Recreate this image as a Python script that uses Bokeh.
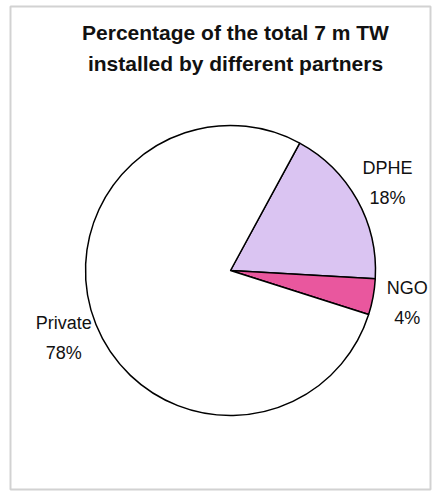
import numpy as np
from bokeh.plotting import figure
from bokeh.models import Range1d, ColumnDataSource, Label
from bokeh.core.properties import value
from bokeh.embed import file_html
from bokeh.resources import INLINE

# ---- data ----
categories = ["DPHE", "NGO", "Private"]
percentages = [18, 4, 78]
colors = ["#DAC4F2", "#E9579E", "#FFFFFF"]
title_lines = ["Percentage of the total 7 m TW", "installed by different partners"]

# ---- layout ----
W, H = 434, 492
cx, cy, r = 230, 222, 145
start_deg = 61.5
label_r = 1.24 * r
FONT = "Liberation Sans"

vals = np.array(percentages, dtype=float)
fr = vals / vals.sum()
cum = np.concatenate([[0], np.cumsum(fr)])
starts = np.radians(start_deg) - cum[:-1] * 2 * np.pi
ends = np.radians(start_deg) - cum[1:] * 2 * np.pi
mids = (starts + ends) / 2

src = ColumnDataSource(dict(
    cat=categories,
    pct=[f"{v}%" for v in percentages],
    start=starts, end=ends, color=colors,
    lx=cx + label_r * np.cos(mids),
    ly=cy + label_r * np.sin(mids),
))

p = figure(width=W, height=H, output_backend="svg", toolbar_location=None,
           x_range=Range1d(0, W), y_range=Range1d(0, H),
           x_axis_location=None, y_axis_location=None, min_border=0,
           background_fill_color="white", border_fill_color="white")
p.grid.visible = False
p.outline_line_color = None

# light frame around the chart
p.quad(left=[10], right=[430], bottom=[3], top=[486], fill_color=None,
       line_color="#d2d2d2", line_width=2)

p.wedge(x=cx, y=cy, radius=r, start_angle="start", end_angle="end",
        direction="clock", fill_color="color", line_color="black",
        line_width=1.5, source=src)

p.text(x="lx", y="ly", text="cat", source=src, text_font=value(FONT),
       text_font_size="18px", text_align="center", text_baseline="middle",
       text_color="#111111", y_offset=-15)
p.text(x="lx", y="ly", text="pct", source=src, text_font=value(FONT),
       text_font_size="18px", text_align="center", text_baseline="middle",
       text_color="#111111", y_offset=15)

for i, line in enumerate(title_lines):
    p.add_layout(Label(x=235, y=460 - 31 * i, text=line, text_font=FONT,
                       text_font_size="21px", text_font_style="bold",
                       text_align="center", text_baseline="alphabetic",
                       text_color="#111111"))

open("out.html", "w").write(file_html(p, INLINE))
